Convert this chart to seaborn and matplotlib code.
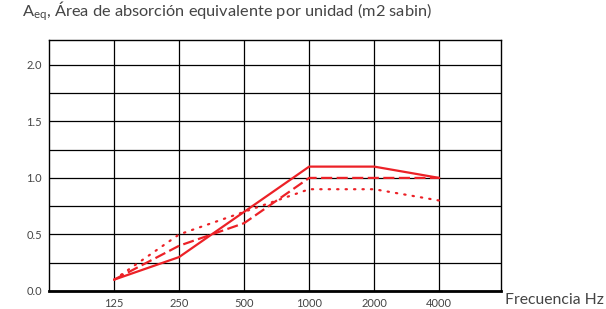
import numpy as np
import pandas as pd
import matplotlib
matplotlib.use("Agg")
import matplotlib.pyplot as plt
import seaborn as sns

# Datos
frecuencias = ['125', '250', '500', '1000', '2000', '4000']
serie_continua = [0.1, 0.3, 0.7, 1.1, 1.1, 1.0]
serie_discontinua = [0.1, 0.4, 0.6, 1.0, 1.0, 1.0]
serie_punteada = [0.1, 0.5, 0.7, 0.9, 0.9, 0.8]
y_labels = ['0.0', '0.5', '1.0', '1.5', '2.0']

sns.set_theme(style="white")
plt.rcParams['font.family'] = ['Lato', 'DejaVu Sans']
plt.rcParams['mathtext.default'] = 'regular'

rojo = '#ec2127'
gris = '#444444'

fig = plt.figure(figsize=(6.06, 3.09), dpi=100)
ax = fig.add_axes([0.0809, 0.0583, 0.7459, 0.8123])

pos = np.arange(len(frecuencias))
df = pd.DataFrame({'pos': pos, 'continua': serie_continua,
                   'discontinua': serie_discontinua, 'punteada': serie_punteada})

sns.lineplot(data=df, x='pos', y='continua', color=rojo, lw=1.6, ax=ax)
sns.lineplot(data=df, x='pos', y='discontinua', color=rojo, lw=1.6,
             ax=ax, linestyle=(0, (5, 2)))
sns.lineplot(data=df, x='pos', y='punteada', color=rojo, lw=1.6,
             ax=ax, linestyle=(0, (0.6, 3.2)), dash_capstyle='round')

ax.set_xlim(-1, 5.95)
ax.set_ylim(0, 2.22)
ax.set_xticks(pos)
ax.set_xticklabels(frecuencias)
ax.set_yticks([0, 0.5, 1.0, 1.5, 2.0])
ax.set_yticklabels(y_labels)
ax.set_yticks(np.arange(0.25, 2.2, 0.5), minor=True)

ax.grid(True, which='both', color='black', lw=0.9)
ax.set_xlabel('')
ax.set_ylabel('')
ax.tick_params(axis='both', which='both', length=0, labelsize=8, colors=gris, pad=5)
for s in ax.spines.values():
    s.set_color('black')
    s.set_linewidth(1.0)
ax.spines['bottom'].set_linewidth(2.0)
ax.set_axisbelow(True)

fig.text(0.036, 0.925, r'$A_{eq}$, Área de absorción equivalente por unidad (m2 sabin)',
         fontsize=11.8, color=gris, va='bottom')
fig.text(0.997, 0.028, 'Frecuencia Hz', fontsize=11.3, color=gris,
         ha='right', va='center')

fig.savefig('out.png', dpi=100)
